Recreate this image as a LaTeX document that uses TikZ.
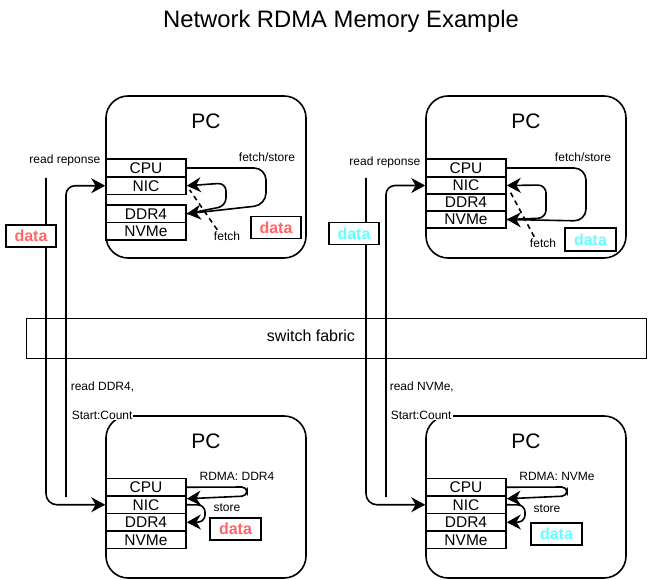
\documentclass[tikz,border=0pt]{standalone}
\usepackage{fontspec}
\setmainfont{Liberation Sans}
\usetikzlibrary{arrows.meta}
\definecolor{datared}{HTML}{FF6666}
\definecolor{datacyan}{HTML}{66FFFF}
\begin{document}
\begin{tikzpicture}[x=1pt,y=-1pt,line width=1.6pt,
  pcbox/.style={draw, rounded corners=22pt, minimum width=200pt, minimum height=162pt, fill=white, inner sep=0pt},
  part/.style={draw, minimum width=80pt, minimum height=17.5pt, inner sep=0pt, font=\fontsize{15.5}{15.5}\selectfont},
  pctext/.style={font=\fontsize{21}{21}\selectfont, inner sep=0pt},
  small/.style={font=\fontsize{12}{12}\selectfont, inner sep=1pt},
  databox/.style={draw, minimum width=50pt, minimum height=22pt, inner sep=0pt, fill=white, font=\bfseries\fontsize{16}{16}\selectfont},
  arr/.style={-{Stealth[length=14pt 0,width=15pt 0,inset=4.5pt 0]}},
  dashline/.style={dash pattern=on 5pt off 4pt},
]
\useasboundingbox (0,0) rectangle (648,580);
\node[font=\fontsize{23.8}{23.8}\selectfont] (title) at (341,21) {Network RDMA Memory Example};

% switch fabric
\node[draw, line width=1pt, minimum width=620pt, minimum height=40pt, inner sep=0pt] (fabric) at (336,338) {};
\node[font=\fontsize{16}{16}\selectfont] (fabtext) at (311,336) {switch fabric};

% PC boxes
\node[pcbox] (tlbox) at (206,177) {};
\node[pcbox] (trbox) at (526,177) {};
\node[pcbox] (blbox) at (206,497) {};
\node[pcbox] (brbox) at (526,497) {};
\node[pctext] (tlpc) at (206,121) {PC};
\node[pctext] (trpc) at (526,121) {PC};
\node[pctext] (blpc) at (206,441) {PC};
\node[pctext] (brpc) at (526,441) {PC};

% top-left stack
\node[part, minimum height=18pt] (tlcpu) at (146,168) {CPU};
\node[part] (tlnic) at (146,185.75) {NIC};
\node[part] (tlddr) at (146,213.75) {DDR4};
\node[part] (tlnvme) at (146,231.25) {NVMe};
% top-right stack
\node[part, minimum height=18pt] (trcpu) at (466,168) {CPU};
\node[part, minimum height=17pt] (trnic) at (466,185.5) {NIC};
\node[part, minimum height=17pt] (trddr) at (466,202.5) {DDR4};
\node[part, minimum height=17pt] (trnvme) at (466,219.5) {NVMe};
% bottom-left stack
\node[part] (blcpu) at (146,487.25) {CPU};
\node[part] (blnic) at (146,504.75) {NIC};
\node[part] (blddr) at (146,522.25) {DDR4};
\node[part] (blnvme) at (146,539.75) {NVMe};
% bottom-right stack
\node[part] (brcpu) at (466,487.25) {CPU};
\node[part] (brnic) at (466,504.75) {NIC};
\node[part] (brddr) at (466,522.25) {DDR4};
\node[part] (brnvme) at (466,539.75) {NVMe};

% outer connectors
\coordinate (s1) at (46,178);
\coordinate (s2) at (66,497);
\coordinate (s3) at (366,178);
\coordinate (s4) at (386,497);
\draw[arr, rounded corners=11pt] (s1) |- (blnic.west);
\draw[arr, rounded corners=9pt] (s2) |- (tlnic.west);
\draw[arr, rounded corners=11pt] (s3) |- (brnic.west);
\draw[arr, rounded corners=9pt] (s4) |- (trnic.west);

% top-left internal
\draw[arr, rounded corners=12pt] (tlcpu.east) -- (266,168) -- (266,205) -- (tlddr.east);
\draw[arr, rounded corners=8pt] (tlddr.east) -- (226,206) -- (226,183) -- (tlnic.east);
\node[small] (tlfs) at (267,157) {fetch/store};
\node[small] (tlfetch) at (227,236) {fetch};
\draw[dashline, shorten >=5pt] ([xshift=5pt]tlfetch.north west) -- (tlnic.east);

% top-right internal
\draw[arr, rounded corners=12pt] (trcpu.east) -- (586,168) -- (586,221) -- (trnvme.east);
\draw[arr, rounded corners=8pt] (trnvme.east) -- (546,218) -- (546,185) -- (trnic.east);
\node[small] (trfs) at (583,157) {fetch/store};
\node[small] (trfetch) at (543,243) {fetch};
\draw[dashline, shorten >=5pt] ([xshift=6pt]trfetch.north west) -- (trnic.east);

% bottom-left internal
\draw[arr, rounded corners=5pt] (blcpu.east) -- (247,487) -- (247,496) -- ([yshift=6pt]blnic.east);
\draw[arr, rounded corners=7pt] (blnic.east) -- (205,505) -- (205,522) -- (blddr.east);
\node[small] (blrd) at (237,476) {RDMA: DDR4};
\node[small] (blst) at (227,508) {store};

% bottom-right internal
\draw[arr, rounded corners=5pt] (brcpu.east) -- (567,487) -- (567,496) -- ([yshift=6pt]brnic.east);
\draw[arr, rounded corners=7pt] (brnic.east) -- (525,505) -- (525,522) -- (brddr.east);
\node[small] (brrd) at (557,476) {RDMA: NVMe};
\node[small] (brst) at (547,509) {store};

% outer labels
\node[small, anchor=east] (tlrr) at (102,160) {read reponse};
\node[small, anchor=east] (trrr) at (422,162) {read reponse};
\node[small, anchor=west] (blrq) at (69,387) {read DDR4,};
\node[small, anchor=west, fill=white] (blsc) at (70,415) {Start:Count};
\node[small, anchor=west] (brrq) at (388,387) {read NVMe,};
\node[small, anchor=west, fill=white] (brsc) at (389,415) {Start:Count};

% data boxes
\node[databox, text=datared] (d1) at (31,236) {data};
\node[databox, text=datared] (d2) at (276,227.5) {data};
\node[databox, text=datacyan] (d3) at (354,233.5) {data};
\node[databox, text=datacyan, minimum width=51pt, minimum height=23pt] (d4) at (590.5,239.5) {data};
\node[databox, text=datared, minimum width=51pt] (d5) at (235.5,529) {data};
\node[databox, text=datacyan, minimum width=51pt] (d6) at (556.5,534) {data};
\end{tikzpicture}
\end{document}
